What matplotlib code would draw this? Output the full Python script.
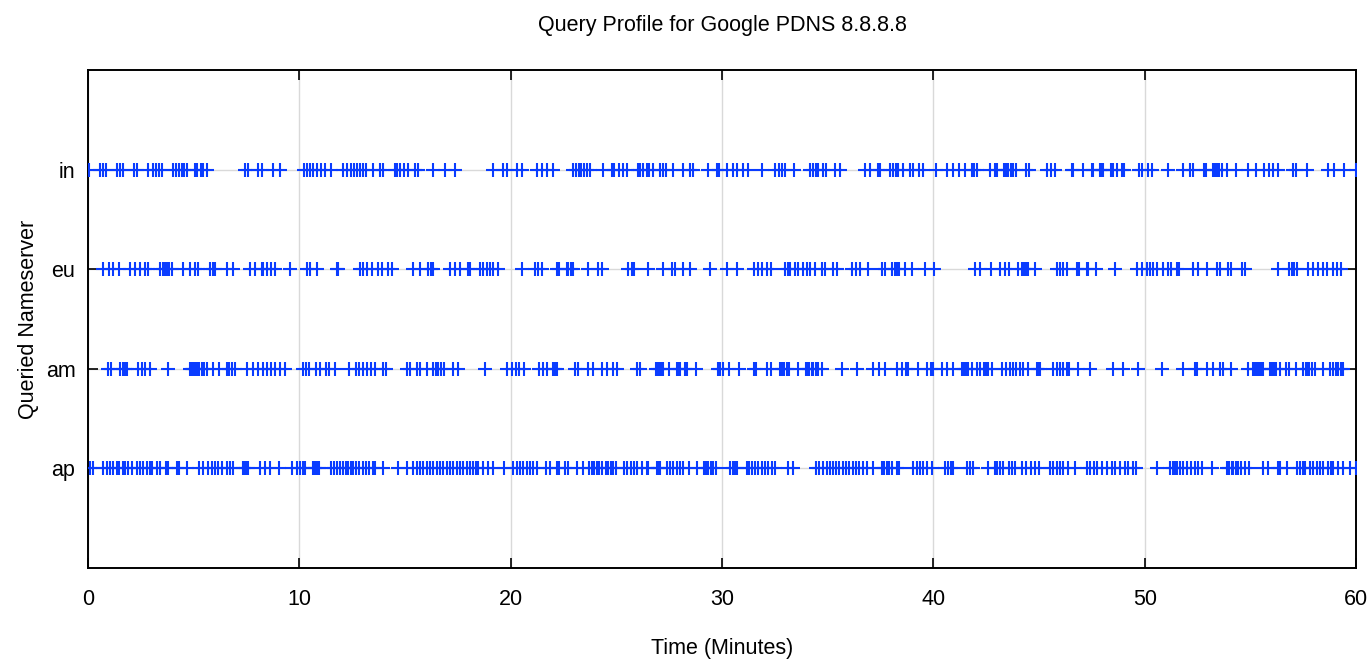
"""
Query profile for Google PDNS 8.8.8.8 -- time of each query per nameserver.
"""

import matplotlib
matplotlib.use("Agg")
import matplotlib.pyplot as plt

# query times in minutes
nameservers = ["ap", "am", "eu", "in"]

times_in = [
    0.06, 0.57, 0.69, 0.85, 1.36, 1.51, 1.64, 2.18, 2.33, 2.85, 3.06, 3.22, 3.37, 3.50,
    4.01, 4.16, 4.32, 4.43, 4.54, 4.67, 5.06, 5.17, 5.33, 5.46, 5.62, 7.43, 7.59, 8.06,
    8.22, 8.77, 9.09, 10.22, 10.35, 10.50, 10.66, 10.85, 11.01, 11.21, 11.48, 12.08,
    12.24, 12.43, 12.59, 12.74, 12.87, 13.03, 13.15, 13.47, 13.82, 13.94, 14.53, 14.64,
    14.76, 14.95, 15.16, 15.47, 15.63, 16.34, 16.89, 17.37, 19.18, 19.65, 19.81, 20.28,
    20.52, 21.23, 21.47, 21.71, 21.99, 22.97, 23.09, 23.22, 23.34, 23.47, 23.63, 23.75,
    24.38, 24.78, 24.89, 25.14, 25.30, 25.49, 26.04, 26.12, 26.25, 26.44, 26.56, 26.75,
    27.07, 27.22, 27.35, 27.70, 28.14, 28.49, 28.64, 29.35, 29.75, 29.87, 30.22, 30.54,
    30.72, 31.01, 31.24, 31.88, 32.51, 32.71, 32.82, 32.98, 33.41, 34.16, 34.32, 34.45,
    34.56, 34.76, 34.92, 35.35, 35.58, 36.77, 37.00, 37.40, 37.48, 37.95, 38.11, 38.23,
    38.34, 38.55, 38.90, 39.05, 39.34, 39.53, 40.13, 40.63, 40.95, 41.23, 41.50, 41.82,
    41.93, 42.05, 42.68, 42.92, 43.03, 43.34, 43.44, 43.55, 43.66, 43.79, 43.91, 44.39,
    44.54, 45.37, 45.55, 45.76, 46.55, 46.63, 47.10, 47.50, 47.57, 47.89, 47.97, 48.04,
    48.39, 48.52, 48.68, 48.91, 49.02, 49.75, 49.86, 50.17, 50.33, 51.12, 51.83, 52.15,
    52.27, 52.81, 52.90, 53.25, 53.33, 53.41, 53.53, 53.65, 53.88, 54.32, 54.91, 55.27,
    55.65, 55.90, 56.06, 56.33, 57.04, 57.16, 57.67, 58.69, 58.96, 59.44, 59.98,
]

times_eu = [
    0.73, 1.01, 1.20, 1.48, 1.99, 2.22, 2.46, 2.70, 2.85, 3.41, 3.53, 3.64, 3.75, 3.85,
    3.96, 4.51, 4.83, 5.06, 5.22, 5.77, 5.90, 6.01, 6.56, 6.88, 7.67, 7.90, 8.22, 8.30,
    8.46, 8.64, 8.85, 9.56, 10.35, 10.50, 10.82, 11.77, 11.85, 12.87, 13.00, 13.19,
    13.42, 13.74, 13.90, 14.21, 14.37, 15.39, 15.71, 16.10, 16.22, 16.34, 17.13, 17.37,
    17.60, 18.00, 18.08, 18.55, 18.71, 18.86, 19.02, 19.18, 19.42, 20.52, 21.15, 21.31,
    21.47, 22.18, 22.30, 22.65, 22.73, 22.84, 22.97, 23.67, 24.15, 24.31, 25.57, 25.73,
    25.84, 26.51, 27.22, 27.62, 27.78, 28.17, 28.49, 29.43, 30.22, 30.72, 31.51, 31.72,
    31.88, 32.12, 32.30, 32.98, 33.14, 33.22, 33.46, 33.61, 33.82, 34.01, 34.16, 34.40,
    34.72, 34.87, 35.27, 35.43, 36.14, 36.34, 36.53, 36.92, 37.56, 37.71, 38.03, 38.19,
    38.30, 38.39, 38.66, 38.98, 39.61, 40.03, 41.97, 42.21, 42.71, 43.16, 43.39, 43.60,
    44.02, 44.18, 44.29, 44.39, 44.50, 44.81, 45.84, 45.99, 46.15, 46.31, 46.78, 46.91,
    47.26, 47.33, 47.70, 48.60, 49.65, 49.86, 50.13, 50.25, 50.41, 50.60, 50.88, 51.12,
    51.23, 51.52, 51.64, 52.30, 52.54, 52.96, 53.41, 53.57, 53.96, 54.07, 54.59, 54.75,
    56.33, 56.85, 56.96, 57.07, 57.19, 57.74, 57.98, 58.22, 58.46, 58.64, 58.93, 59.09,
    59.28,
]

times_am = [
    0.96, 1.07, 1.51, 1.64, 1.75, 1.83, 2.38, 2.54, 2.70, 2.93, 3.80, 4.83, 4.91, 4.98,
    5.06, 5.17, 5.27, 5.38, 5.49, 5.62, 5.90, 6.21, 6.56, 6.69, 6.80, 6.96, 7.51, 7.79,
    8.06, 8.27, 8.46, 8.64, 8.85, 9.09, 9.32, 10.16, 10.32, 10.47, 10.79, 10.98, 11.26,
    11.42, 11.69, 12.37, 12.68, 12.84, 13.00, 13.19, 13.38, 13.58, 13.97, 14.10, 15.08,
    15.24, 15.55, 15.71, 16.03, 16.34, 16.47, 16.58, 16.69, 16.85, 17.26, 17.52, 18.79,
    19.81, 20.05, 20.25, 20.41, 20.63, 21.36, 21.55, 21.71, 21.99, 22.10, 22.18, 23.04,
    23.20, 23.67, 23.91, 24.31, 24.57, 24.86, 25.02, 25.96, 26.12, 26.88, 26.99, 27.07,
    27.15, 27.22, 27.51, 27.86, 27.93, 28.01, 28.25, 28.36, 28.77, 29.83, 29.91, 30.03,
    30.35, 30.82, 31.51, 31.61, 32.12, 32.30, 32.74, 32.82, 32.93, 33.09, 33.19, 33.61,
    33.98, 34.04, 34.13, 34.24, 34.32, 34.45, 34.56, 34.72, 35.66, 36.37, 37.16, 37.45,
    37.71, 38.27, 38.50, 38.71, 38.81, 39.29, 39.69, 39.88, 39.97, 40.40, 40.66, 40.92,
    41.34, 41.45, 41.55, 41.66, 41.82, 42.05, 42.21, 42.40, 42.49, 42.60, 42.76, 43.24,
    43.44, 43.63, 43.79, 43.91, 44.10, 44.26, 44.50, 44.89, 44.97, 45.05, 45.65, 45.84,
    45.99, 46.15, 46.31, 46.44, 46.86, 47.41, 48.52, 48.99, 49.70, 50.81, 51.83, 52.38,
    52.46, 52.96, 53.22, 53.57, 53.69, 54.07, 54.91, 55.11, 55.22, 55.33, 55.43, 55.49,
    55.62, 55.93, 56.01, 56.12, 56.21, 56.40, 56.69, 56.85, 57.16, 57.51, 57.64, 57.70,
    57.79, 57.90, 58.06, 58.46, 58.78, 58.93, 59.06, 59.16, 59.28, 59.37,
]

times_ap = [
    0.09, 0.22, 0.69, 0.88, 1.04, 1.20, 1.36, 1.48, 1.64, 1.75, 1.91, 2.07, 2.33, 2.46,
    2.59, 2.78, 2.93, 3.01, 3.28, 3.41, 3.69, 3.80, 4.20, 4.32, 4.67, 5.27, 5.46, 5.69,
    5.85, 6.01, 6.17, 6.33, 6.56, 6.72, 6.88, 7.32, 7.38, 7.48, 7.59, 8.14, 8.38, 8.61,
    9.05, 9.64, 9.87, 10.03, 10.16, 10.27, 10.66, 10.74, 10.85, 10.95, 11.48, 11.64,
    11.80, 11.92, 12.08, 12.21, 12.32, 12.43, 12.56, 12.68, 12.84, 13.00, 13.15, 13.31,
    13.47, 13.58, 13.98, 14.68, 15.08, 15.39, 15.55, 15.71, 15.87, 16.03, 16.18, 16.34,
    16.50, 16.66, 16.81, 16.97, 17.13, 17.29, 17.45, 17.60, 17.76, 17.92, 18.08, 18.20,
    18.36, 18.47, 18.71, 18.94, 19.18, 19.69, 20.13, 20.28, 20.44, 20.60, 20.76, 20.91,
    21.07, 21.23, 21.67, 21.86, 22.18, 22.30, 22.57, 22.73, 23.12, 23.44, 23.72, 23.83,
    23.94, 24.07, 24.20, 24.31, 24.51, 24.62, 24.73, 24.86, 24.98, 25.36, 25.52, 25.68,
    25.84, 25.96, 26.20, 26.44, 26.51, 26.91, 26.99, 27.07, 27.38, 27.54, 27.70, 27.86,
    28.01, 28.17, 28.45, 28.80, 29.15, 29.24, 29.35, 29.46, 29.59, 29.72, 30.38, 30.51,
    30.62, 30.73, 31.17, 31.29, 31.40, 31.56, 31.72, 31.88, 32.04, 32.19, 32.35, 32.51,
    33.14, 33.38, 34.45, 34.61, 34.76, 34.95, 35.11, 35.24, 35.39, 35.55, 35.71, 35.87,
    36.03, 36.18, 36.34, 36.50, 36.69, 36.85, 37.13, 37.56, 37.67, 37.79, 37.92, 38.03,
    38.27, 38.39, 39.05, 39.21, 39.37, 39.53, 39.69, 39.92, 40.55, 40.71, 40.82, 40.95,
    41.58, 41.74, 41.89, 42.60, 42.92, 43.03, 43.16, 43.28, 43.60, 43.71, 43.87, 44.18,
    44.39, 44.61, 44.81, 45.02, 45.52, 45.65, 45.84, 45.99, 46.12, 46.39, 46.70, 47.26,
    47.41, 47.60, 47.73, 47.97, 48.20, 48.44, 48.60, 48.83, 49.07, 49.23, 49.46, 49.59,
    50.57, 51.20, 51.33, 51.44, 51.55, 51.67, 51.83, 51.99, 52.18, 52.38, 52.54, 52.70,
    53.17, 53.88, 54.01, 54.12, 54.20, 54.32, 54.43, 54.54, 54.75, 54.95, 55.61, 55.85,
    56.32, 56.40, 56.72, 57.19, 57.35, 57.48, 57.59, 57.82, 57.98, 58.14, 58.30, 58.46,
    58.69, 58.80, 58.93, 59.16, 59.40, 59.72, 59.99,
]

x_ticks = [0, 10, 20, 30, 40, 50, 60]


def main() -> None:
    plt.rcParams["font.family"] = ["Liberation Sans", "DejaVu Sans"]

    fig = plt.figure(figsize=(13.7, 6.6), dpi=100)
    ax = fig.add_axes([0.0642, 0.1394, 0.9256, 0.7545])

    series = [times_ap, times_am, times_eu, times_in]
    for level, times in enumerate(series, start=1):
        ax.plot(times, [level] * len(times), linestyle="none", marker="+",
                markersize=9.5, markeredgewidth=1.5, color="#0a3cff", zorder=3)

    ax.set_xlim(0, 60)
    ax.set_ylim(0, 5)
    ax.set_xticks(x_ticks)
    ax.set_yticks(range(1, len(nameservers) + 1))
    ax.set_yticklabels(nameservers)

    ax.grid(True, color="#d9d9d9", linewidth=1.0, zorder=0)
    ax.tick_params(axis="both", direction="in", length=7, width=1.2,
                   top=True, right=True, labelsize=15.5)
    ax.tick_params(axis="x", pad=15)
    ax.tick_params(axis="y", pad=9)
    for spine in ax.spines.values():
        spine.set_linewidth(1.4)

    ax.set_xlabel("Time (Minutes)", fontsize=15.5, labelpad=20)
    ax.set_ylabel("Queried Nameserver", fontsize=15.5, labelpad=5)
    ax.set_title("Query Profile for Google PDNS 8.8.8.8", fontsize=15.5, pad=28)

    fig.savefig("out.png", dpi=100)
    plt.close(fig)


if __name__ == "__main__":
    main()
